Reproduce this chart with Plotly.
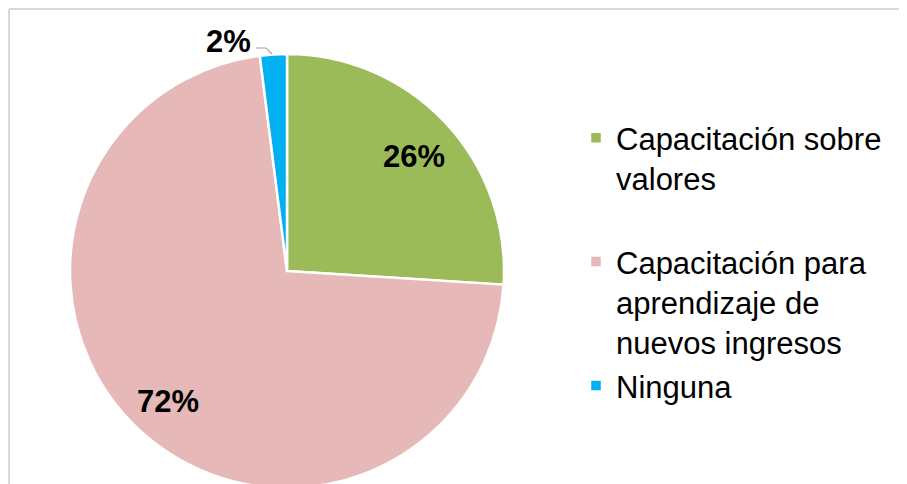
import math
import plotly.graph_objects as go

# data
labels = ["Capacitación sobre<br>valores<br> ", "Capacitación para<br>aprendizaje de<br>nuevos ingresos", "Ninguna"]
values = [26, 72, 2]
colors = ["#9BBB59", "#E6B9B8", "#00B0F0"]

# the page body adds an 8px margin; the figure runs past the bottom so the pie is cut like the original
OFF = 8
W, H = 907 - OFF, 500


def px(x):
    return (x - OFF) / W


def py(y):
    return 1 - (y - OFF) / H


# pie box in screen pixels
pie_top, cx_scr, radius = 54, 287, 217
cy_scr = pie_top + radius

fig = go.Figure()
fig.add_trace(go.Pie(
    labels=labels,
    values=values,
    sort=False,
    direction="clockwise",
    rotation=0,
    marker=dict(colors=colors, line=dict(color="white", width=2.5)),
    textinfo="none",
    domain=dict(x=[px(cx_scr - radius), px(cx_scr + radius)],
                y=[py(pie_top + 2 * radius), py(pie_top)]),
    hoverinfo="label+percent",
))

label_font = dict(family="Liberation Sans, Arial", size=31, color="black")

# percentage labels for the two big slices, placed along each slice's mid angle
total = sum(values)
start = 0
for i, v in enumerate(values):
    mid = (start + v / 2) / total * 2 * math.pi
    start += v
    if i == 2:
        continue
    k = 0.8 * radius
    fig.add_annotation(
        text=f"<b>{v}%</b>", showarrow=False,
        x=px(cx_scr + k * math.sin(mid)), y=py(cy_scr - k * math.cos(mid) + 4),
        xref="paper", yref="paper", xanchor="center", yanchor="middle",
        font=label_font,
    )

# small slice label sits outside with a leader line, like the original
fig.add_annotation(
    text=f"<b>{values[2]}%</b>", showarrow=False,
    x=px(228), y=py(41), xref="paper", yref="paper",
    xanchor="center", yanchor="middle",
    font=label_font,
)
fig.add_shape(type="path", xref="paper", yref="paper",
              path=f"M {px(256)},{py(48)} L {px(266)},{py(48)} L {px(272)},{py(54)}",
              line=dict(color="#A6A6A6", width=1.2))

# chart frame: only the top and left edges show in the original
fig.add_shape(type="line", xref="paper", yref="paper",
              x0=px(9), y0=py(9), x1=1.0, y1=py(9),
              line=dict(color="#D9D9D9", width=2), layer="below")
fig.add_shape(type="line", xref="paper", yref="paper",
              x0=px(9), y0=py(9), x1=px(9), y1=0,
              line=dict(color="#D9D9D9", width=2), layer="below")

fig.update_layout(
    width=W, height=H,
    margin=dict(l=0, r=0, t=0, b=0),
    paper_bgcolor="white",
    plot_bgcolor="white",
    showlegend=True,
    legend=dict(
        x=px(576), y=py(111), xanchor="left", yanchor="top",
        valign="top",
        font=dict(family="Liberation Sans, Arial", size=31, color="black"),
        bgcolor="rgba(0,0,0,0)",
    ),
)

fig.write_html("out.html")
